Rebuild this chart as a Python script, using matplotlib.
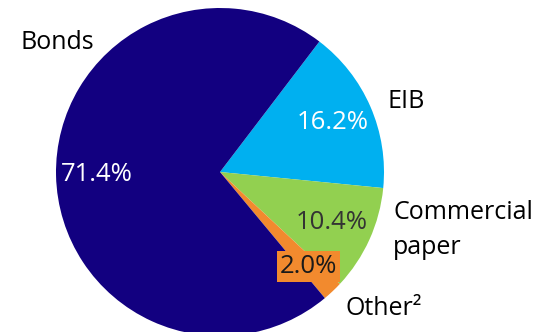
import matplotlib
matplotlib.use("Agg")
import numpy as np
import matplotlib.pyplot as plt

plt.rcParams['font.family'] = ['Open Sans', 'DejaVu Sans']

# funding sources, in percent
segments = ["EIB", "Commercial paper", "Other", "Bonds"]
shares = [16.2, 10.4, 2.0, 71.4]
colors = ["#00B0F0", "#92D050", "#F28A2E", "#120080"]
pct_colors = ["white", "#333333", "#1a1a1a", "white"]

# outer names, placed beside their wedges (data units, pie radius = 1)
names = ["EIB", "Commercial\npaper", "Other²", "Bonds"]
name_pos = [(1.02, 0.43), (1.055, -0.355), (0.765, -0.83), (-1.215, 0.79)]

fig = plt.figure(figsize=(5.5, 3.32), dpi=100)
ax = fig.add_axes([0, 0, 1, 1])

wedges, _, pcts = ax.pie(
    shares, colors=colors, startangle=52.7, counterclock=False,
    autopct="%.1f%%", pctdistance=0.75,
    wedgeprops=dict(linewidth=0),
    textprops=dict(fontsize=18.5),
)

for w, t, c in zip(wedges, pcts, pct_colors):
    t.set_color(c)

# small slice: push the label out a bit and give it a box
w = wedges[2]
mid = np.deg2rad((w.theta1 + w.theta2) / 2)
pcts[2].set_position((0.79 * np.cos(mid), 0.79 * np.sin(mid)))
pcts[2].set_bbox(dict(facecolor="#F28A2E", edgecolor="none", pad=2.0))

for name, (x, y) in zip(names, name_pos):
    ax.text(x, y, name, ha="left", va="center", fontsize=18,
            color="black", linespacing=1.5)

ax.set_xlim(-220 / 164, 330 / 164)
ax.set_ylim((172 - 332) / 164, 172 / 164)
ax.set_aspect("auto")
ax.axis("off")

fig.savefig("out.png", dpi=100)
